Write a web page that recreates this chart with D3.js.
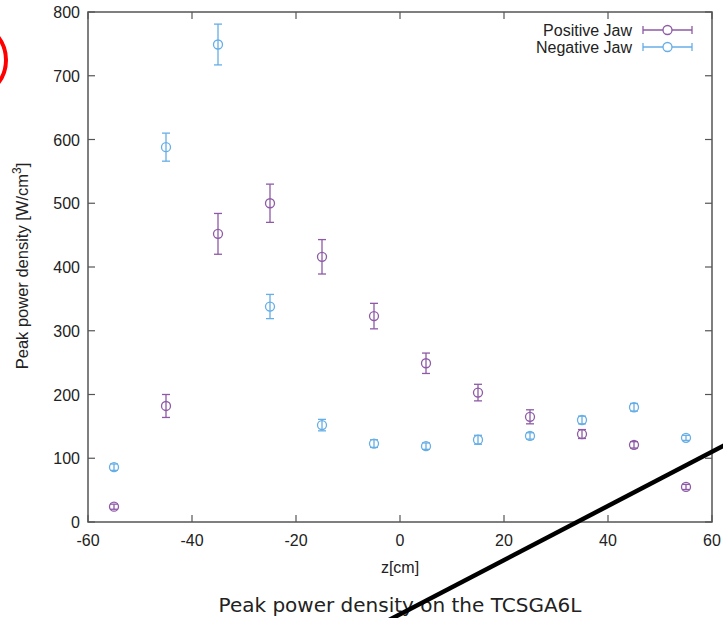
<!DOCTYPE html>
<html><head><meta charset="utf-8">
<script src="https://cdn.jsdelivr.net/npm/d3@7"></script>
<style>body{margin:0;background:#fff}svg{display:block}</style>
</head><body>
<svg id="c" width="723" height="618"></svg>
<script>
const zPositions = [-55,-45,-35,-25,-15,-5,5,15,25,35,45,55];
const positiveJaw = [24,182,452,500,416,323,249,203,165,138,121,55];
const positiveErr = [4,18,32,30,27,20,16,13,11,7,5,4];
const negativeJaw = [86,588,749,338,152,123,119,129,135,160,180,132];
const negativeErr = [5,22,32,19,9,6,5,7,5,6,6,4];
const xTicks = [-60,-40,-20,0,20,40,60];
const yTicks = [0,100,200,300,400,500,600,700,800];
const seriesNames = ["Positive Jaw","Negative Jaw"];
const colors = ["#8e5aa6","#66aee6"];

const svg = d3.select("#c");
const L=88,R=712,T=12,B=522;
const x = d3.scaleLinear().domain([-60,60]).range([L,R]);
const y = d3.scaleLinear().domain([0,800]).range([B,T]);
const axCol="#555";
const tf = "'Liberation Sans', Arial, sans-serif";
const fs = 16;

const g = svg.append("g");
xTicks.forEach(t=>{
  g.append("line").attr("x1",x(t)).attr("x2",x(t)).attr("y1",B).attr("y2",B-7).attr("stroke",axCol).attr("stroke-width",1.2);
  g.append("line").attr("x1",x(t)).attr("x2",x(t)).attr("y1",T).attr("y2",T+7).attr("stroke",axCol).attr("stroke-width",1.2);
  g.append("text").attr("x",x(t)).attr("y",B+24).attr("text-anchor","middle").attr("font-family",tf).attr("font-size",fs).attr("fill","#222").text(t);
});
yTicks.forEach(t=>{
  g.append("line").attr("x1",L).attr("x2",L+7).attr("y1",y(t)).attr("y2",y(t)).attr("stroke",axCol).attr("stroke-width",1.2);
  g.append("line").attr("x1",R).attr("x2",R-7).attr("y1",y(t)).attr("y2",y(t)).attr("stroke",axCol).attr("stroke-width",1.2);
  g.append("text").attr("x",L-8).attr("y",y(t)+6).attr("text-anchor","end").attr("font-family",tf).attr("font-size",fs).attr("fill","#222").text(t);
});
g.append("rect").attr("x",L).attr("y",T).attr("width",R-L).attr("height",B-T).attr("fill","none").attr("stroke",axCol).attr("stroke-width",1.5);

g.append("text").attr("x",(L+R)/2).attr("y",573).attr("text-anchor","middle").attr("font-family",tf).attr("font-size",fs).attr("fill","#222").text("z[cm]");
const yl = g.append("text").attr("transform","translate(28,266) rotate(-90)").attr("text-anchor","middle").attr("font-family",tf).attr("font-size",16.5).attr("fill","#222");
yl.append("tspan").text("Peak power density [W/cm");
yl.append("tspan").attr("dy",-7).attr("font-size",12).text("3");
yl.append("tspan").attr("dy",7).text("]");

svg.append("text").attr("x",400).attr("y",612).attr("text-anchor","middle").attr("font-family","'DejaVu Sans', sans-serif").attr("font-size",20).attr("fill","#222").text("Peak power density on the TCSGA6L");

const series = [
  {vals:positiveJaw, err:positiveErr, col:colors[0]},
  {vals:negativeJaw, err:negativeErr, col:colors[1]}
];
const cap=4, rad=4.5;
series.forEach(s=>{
  const sg = svg.append("g").attr("stroke",s.col).attr("fill","none").attr("stroke-width",1.3);
  zPositions.forEach((z,i)=>{
    const cx=x(z), v=s.vals[i], e=s.err[i];
    const y1=y(v+e), y2=y(v-e);
    sg.append("line").attr("x1",cx).attr("x2",cx).attr("y1",y1).attr("y2",y2);
    sg.append("line").attr("x1",cx-cap).attr("x2",cx+cap).attr("y1",y1).attr("y2",y1);
    sg.append("line").attr("x1",cx-cap).attr("x2",cx+cap).attr("y1",y2).attr("y2",y2);
    sg.append("circle").attr("cx",cx).attr("cy",y(v)).attr("r",rad);
  });
});

seriesNames.forEach((n,i)=>{
  const ly = 30 + i*17;
  svg.append("text").attr("x",632).attr("y",ly+6).attr("text-anchor","end").attr("font-family",tf).attr("font-size",fs).attr("fill","#222").text(n);
  const lg = svg.append("g").attr("stroke",colors[i]).attr("fill","none").attr("stroke-width",1.3);
  lg.append("line").attr("x1",643).attr("x2",692).attr("y1",ly).attr("y2",ly);
  lg.append("line").attr("x1",643).attr("x2",643).attr("y1",ly-4).attr("y2",ly+4);
  lg.append("line").attr("x1",692).attr("x2",692).attr("y1",ly-4).attr("y2",ly+4);
  lg.append("circle").attr("cx",667.5).attr("cy",ly).attr("r",rad).attr("fill","#fff");
});

svg.append("circle").attr("cx",-32).attr("cy",60).attr("r",38).attr("fill","none").attr("stroke","#ff0000").attr("stroke-width",4);
svg.append("line").attr("x1",389).attr("y1",620).attr("x2",725).attr("y2",445).attr("stroke","#000").attr("stroke-width",4.5);
</script>
</body></html>
